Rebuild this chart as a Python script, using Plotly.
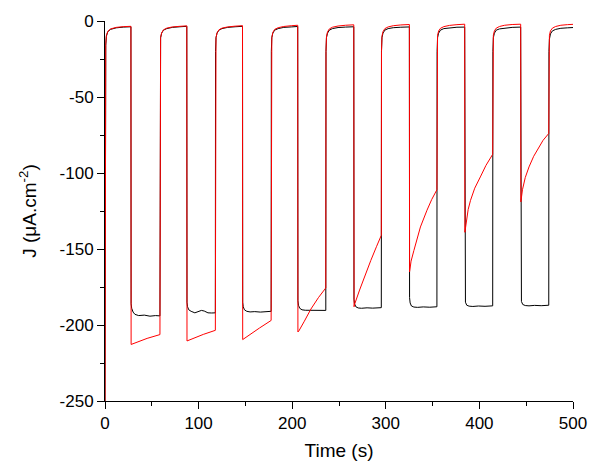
import plotly.graph_objects as go

# ---- Black trace (time s, current density uA/cm2) ----
black_t = [
    0, 0.3, 0.8, 1.5, 3, 6, 12, 20, 27.7,
    27.9, 28.5, 30, 32, 36, 42, 48, 54, 58.7,
    58.9, 59.4, 60.5, 62.5, 66, 72, 80, 87.4,
    87.6, 88.2, 89.5, 92, 96, 100, 103, 106, 110, 114, 117.9,
    118.1, 118.6, 119.7, 121.7, 125, 131, 139, 146.9,
    147.1, 147.7, 149, 151.5, 155, 160, 166, 172, 177.5,
    177.7, 178.2, 179.3, 181.3, 185, 191, 199, 205.9,
    206.1, 206.7, 208, 210.5, 214, 220, 226, 231, 235.9,
    236.1, 236.6, 237.7, 239.7, 243, 249, 257, 265.8,
    266.0, 266.6, 268, 270.5, 274, 280, 286, 295.2,
    295.4, 295.9, 297, 299, 302.5, 308, 316, 325.2,
    325.4, 326, 327.4, 330, 334, 340, 347, 354.6,
    354.8, 355.3, 356.4, 358.4, 362, 368, 376, 384.3,
    384.5, 385.1, 386.5, 389, 393, 399, 406, 414.2,
    414.4, 414.9, 416, 418, 421.5, 427, 435, 444.1,
    444.3, 444.9, 446.3, 449, 453, 459, 466, 474.1,
    474.3, 474.8, 475.9, 478, 481.5, 487, 494, 500,
]
black_j = [
    -250, -40, -16, -10, -7, -5.5, -4.5, -4, -3.8,
    -186, -189, -191.5, -193, -193.8, -193.5, -194.2, -193.8, -194,
    -20, -11, -8, -6, -5, -4.2, -3.8, -3.5,
    -185, -188, -190, -191, -192, -191.2, -190.4, -190.8, -192, -192.1, -192,
    -20, -11, -8, -6, -5, -4.2, -3.8, -3.5,
    -185, -188, -190, -191, -191.4, -191.2, -191.5, -191.3, -191,
    -20, -11, -8, -6, -5, -4.2, -3.9, -3.6,
    -184, -187, -189, -190, -190.3, -190.2, -190.5, -190.3, -190.4,
    -20, -11, -8, -6, -5, -4.3, -4, -3.8,
    -183, -186, -188, -188.8, -189, -188.7, -188.9, -188.6,
    -20, -11, -8, -6, -5, -4.4, -4.1, -3.9,
    -182, -185.5, -187.5, -188.2, -188.4, -188.1, -188.3, -188,
    -20, -11, -8, -6, -5, -4.4, -4.1, -4,
    -182, -185, -187, -187.6, -187.8, -187.5, -187.7, -187.4,
    -20, -11, -8, -6, -5.2, -4.6, -4.2, -4,
    -181, -184.5, -186.5, -187.2, -187.4, -187.1, -187.3, -187,
    -20, -12, -8.5, -6.5, -5.5, -4.8, -4.5, -4.3,
]

# ---- Red trace ----
red_t = [
    0, 0.3, 0.8, 1.5, 3, 6, 12, 20, 27.7,
    27.9, 35, 45, 58.7,
    58.9, 59.4, 60.5, 62.5, 66, 72, 80, 87.4,
    87.6, 95, 105, 117.9,
    118.1, 118.6, 119.7, 121.7, 125, 131, 139, 146.9,
    147.1, 155, 165, 177.5,
    177.7, 178.2, 179.3, 181.3, 185, 191, 199, 205.9,
    206.1, 207, 213, 220, 228, 235.9,
    236.1, 236.6, 237.7, 239.7, 243, 249, 257, 265.8,
    266.1, 266.6, 272, 278, 284, 290, 295.2,
    295.4, 295.9, 297, 299, 302.5, 308, 316, 325.2,
    325.4, 327, 330, 333.5, 337, 344, 349, 354.6,
    354.8, 355.3, 356.4, 358.4, 362, 368, 376, 384.3,
    384.5, 386, 388, 390.5, 395, 401, 407, 414.2,
    414.4, 414.9, 416, 418, 421.5, 427, 435, 444.1,
    444.3, 446, 449, 453, 458, 463, 468, 474.1,
    474.3, 474.8, 475.9, 478, 481.5, 487, 494, 500,
]
red_j = [
    -250, -38, -15, -9.5, -6.8, -5.2, -4.2, -3.7, -3.5,
    -212.8, -211, -208.8, -206.3,
    -20, -11, -7.8, -5.8, -4.7, -3.9, -3.5, -3.2,
    -210.5, -208.5, -206.2, -203.5,
    -20, -11, -7.8, -5.8, -4.7, -3.9, -3.4, -3.1,
    -209.6, -206.5, -202, -197,
    -20, -11, -7.5, -5.5, -4.4, -3.6, -3.1, -2.8,
    -204.6, -204, -197.5, -189.5, -182, -175.6,
    -20, -10.5, -7.2, -5.2, -4.1, -3.3, -2.8, -2.5,
    -188, -186.5, -177, -167, -157.5, -148.5, -141,
    -20, -10, -7, -5, -3.9, -3.1, -2.6, -2.3,
    -165, -158, -151, -143, -135.5, -124.5, -117.5, -111,
    -18, -9.5, -6.6, -4.8, -3.7, -2.9, -2.4, -2.1,
    -139, -131, -124, -118, -110, -102.6, -95, -87.7,
    -18, -9.5, -6.5, -4.7, -3.6, -2.8, -2.3, -2.1,
    -119, -111, -103, -96, -89, -83.5, -78.5, -74,
    -18, -9.5, -6.5, -4.7, -3.6, -2.8, -2.4, -2.2,
]

x_tick_vals = [0, 100, 200, 300, 400, 500]
x_tick_labels = ["0", "100", "200", "300", "400", "500"]
y_tick_vals = [-250, -200, -150, -100, -50, 0]
y_tick_labels = ["-250", "-200", "-150", "-100", "-50", "0"]

FONT = "Arial, Liberation Sans, sans-serif"

fig = go.Figure()
fig.add_trace(go.Scatter(x=black_t, y=black_j, mode="lines",
                         line=dict(color="#000000", width=1), showlegend=False))
fig.add_trace(go.Scatter(x=red_t, y=red_j, mode="lines",
                         line=dict(color="#ff0000", width=1), showlegend=False))

axis_common = dict(
    showgrid=False, zeroline=False, showline=True, linecolor="black", linewidth=1,
    ticks="outside", ticklen=7, tickwidth=1, tickcolor="black",
    tickfont=dict(family=FONT, size=17, color="black"),
    mirror=False, automargin=False,
)

# page is rendered with an 8px body offset, so margins are shifted accordingly
fig.update_layout(
    template="none",
    width=600, height=476,
    margin=dict(l=97, r=35, t=13, b=83, autoexpand=False),
    plot_bgcolor="white", paper_bgcolor="white",
    font=dict(family=FONT, color="black"),
    xaxis=dict(
        range=[0, 500], tickmode="array", tickvals=x_tick_vals, ticktext=x_tick_labels,
        minor=dict(dtick=50, tick0=0, ticks="outside", ticklen=4, tickwidth=1, tickcolor="black", showgrid=False),
        title=dict(text="Time (s)", font=dict(family=FONT, size=19, color="black"), standoff=11),
        **axis_common,
    ),
    yaxis=dict(
        range=[-250, 0], tickmode="array", tickvals=y_tick_vals, ticktext=y_tick_labels,
        minor=dict(dtick=25, tick0=0, ticks="outside", ticklen=4, tickwidth=1, tickcolor="black", showgrid=False),
        title=dict(text="J (μA.cm<sup>-2</sup>)", font=dict(family=FONT, size=19, color="black"), standoff=17),
        **axis_common,
    ),
)

fig.write_html("out.html")
